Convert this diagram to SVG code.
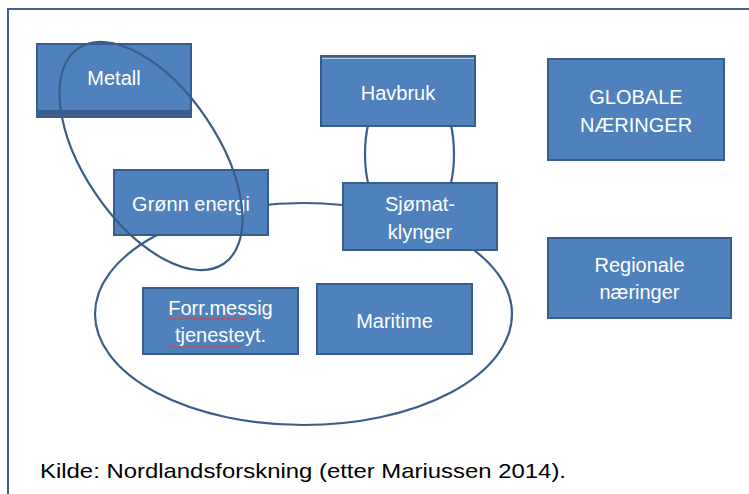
<svg xmlns="http://www.w3.org/2000/svg" width="749" height="494" viewBox="0 0 749 494">
<style>
.box{fill:#4F81BD;stroke:#385D8A;stroke-width:2}
.lbl{font-family:"Liberation Sans",Arial,sans-serif;font-size:20px;fill:#FFFFFF;text-anchor:middle}
.ring{fill:none;stroke:#3A5E8C;stroke-width:2.2}
.cap{font-family:"Liberation Sans",Arial,sans-serif;font-size:21px;fill:#000000}
.sq{fill:none;stroke:#E04040;stroke-width:0.9}
</style>
<rect width="749" height="494" fill="#FFFFFF"/>
<path d="M8 494 V9 H749" fill="none" stroke="#3F6391" stroke-width="2"/>
<g id="connectors">
  <ellipse class="ring" cx="303.5" cy="314" rx="208.5" ry="111"/>
  <ellipse class="ring" cx="409.5" cy="154" rx="44.5" ry="78"/>
</g>
<g id="metall">
  <rect class="box" x="37" y="44" width="154" height="73"/>
  <rect x="37" y="110" width="154" height="7" fill="#3B5E8C"/>
  <text class="lbl" x="114" y="85">Metall</text>
</g>
<g id="gronn-energi">
  <rect class="box" x="114" y="170" width="154" height="65"/>
  <text class="lbl" x="191" y="211">Grønn energi</text>
</g>
<g id="havbruk">
  <rect class="box" x="321" y="56" width="154" height="70"/>
  <line x1="322" y1="58.5" x2="474" y2="58.5" stroke="#B8CCE4" stroke-width="1"/>
  <text class="lbl" x="398" y="100">Havbruk</text>
</g>
<g id="sjomat">
  <rect class="box" x="343" y="183" width="154" height="67"/>
  <text class="lbl" x="420" y="211">Sjømat-</text>
  <text class="lbl" x="420" y="239">klynger</text>
</g>
<g id="forr">
  <rect class="box" x="143" y="288" width="155" height="66"/>
  <text class="lbl" x="220.5" y="315">Forr.messig</text>
  <text class="lbl" x="220.5" y="342">tjenesteyt.</text>
  <path class="sq" d="M168 318 l2 1.5 l2 -1.5 l2 1.5 l2 -1.5 l2 1.5 l2 -1.5 l2 1.5 l2 -1.5 l2 1.5 l2 -1.5 l2 1.5 l2 -1.5 l2 1.5 l2 -1.5 l2 1.5 l2 -1.5 l2 1.5 l2 -1.5 l2 1.5 l2 -1.5 l2 1.5 l2 -1.5 l2 1.5 l2 -1.5 l2 1.5 l2 -1.5 l2 1.5 l2 -1.5 l2 1.5 l2 -1.5 l2 1.5 l2 -1.5 l2 1.5 l2 -1.5 l2 1.5 l2 -1.5 l2 1.5 l2 -1.5 l2 1.5 l2 -1.5"/>
  <path class="sq" d="M170 346 l2 1.5 l2 -1.5 l2 1.5 l2 -1.5 l2 1.5 l2 -1.5 l2 1.5 l2 -1.5 l2 1.5 l2 -1.5 l2 1.5 l2 -1.5 l2 1.5 l2 -1.5 l2 1.5 l2 -1.5 l2 1.5 l2 -1.5 l2 1.5 l2 -1.5 l2 1.5 l2 -1.5 l2 1.5 l2 -1.5 l2 1.5 l2 -1.5 l2 1.5 l2 -1.5 l2 1.5 l2 -1.5 l2 1.5 l2 -1.5 l2 1.5 l2 -1.5 l2 1.5 l2 -1.5"/>
</g>
<g id="maritime">
  <rect class="box" x="317" y="284" width="155" height="70"/>
  <text class="lbl" x="394.5" y="328">Maritime</text>
</g>
<g id="globale">
  <rect class="box" x="548" y="59" width="176" height="101"/>
  <text class="lbl" x="636" y="104">GLOBALE</text>
  <text class="lbl" x="636" y="132">NÆRINGER</text>
</g>
<g id="regionale">
  <rect class="box" x="548" y="238" width="183" height="80"/>
  <text class="lbl" x="639.5" y="272">Regionale</text>
  <text class="lbl" x="639.5" y="299">næringer</text>
</g>
<g id="overlay">
  <ellipse class="ring" cx="151" cy="156" rx="130" ry="67" transform="rotate(56 151 156)"/>
</g>
<text class="cap" x="40" y="478" textLength="526" lengthAdjust="spacingAndGlyphs">Kilde: Nordlandsforskning (etter Mariussen 2014).</text>
</svg>
